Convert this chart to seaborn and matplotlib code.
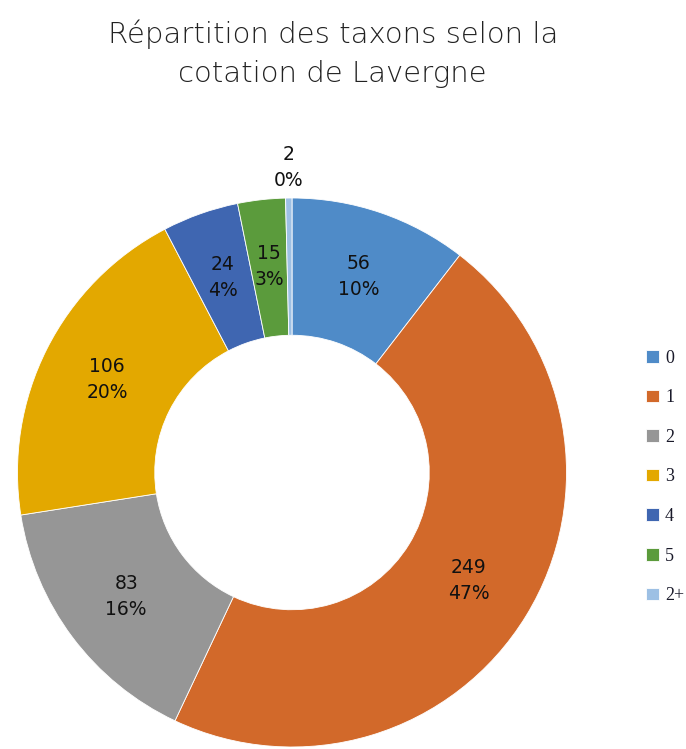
import numpy as np
import pandas as pd
import seaborn as sns
import matplotlib.pyplot as plt

# data
classes = ['0', '1', '2', '3', '4', '5', '2+']
counts = [56, 249, 83, 106, 24, 15, 2]
colors = ['#4F8BC8', '#D2692A', '#969696', '#E3A800', '#3F66B1', '#5B9B3C', '#9DC0E4']

df = pd.DataFrame({'cotation': classes, 'n': counts})
df['pct'] = (df['n'] / df['n'].sum() * 100).round().astype(int)

sns.set_theme(style='white')
plt.rcParams['font.family'] = ['DejaVu Sans']

fig = plt.figure(figsize=(6.86, 7.49), dpi=100)
ax = fig.add_axes([17.5/686, 2/749, 549/686, 549/749])

wedges, _ = ax.pie(df['n'], colors=sns.color_palette(colors), startangle=90,
                   counterclock=False, radius=1,
                   wedgeprops=dict(width=0.5, edgecolor='white', linewidth=0.6))
ax.set_xlim(-1, 1)
ax.set_ylim(-1, 1)
ax.set_aspect('equal')

# value + percent labels
for i, w in enumerate(wedges):
    mid = np.deg2rad((w.theta1 + w.theta2) / 2)
    r = 0.755 if df['n'][i] > 5 else 1.11
    ax.text(r*np.cos(mid), r*np.sin(mid), f"{df['n'][i]}\n{df['pct'][i]}%",
            ha='center', va='center', fontsize=13.5, color='#111111', linespacing=1.45)

# title, two centred lines
fig.text(0.485, 1 - 43/749, 'Répartition des taxons selon la', ha='center', va='baseline',
         fontsize=21, fontweight='light', color='#222222')
fig.text(0.485, 1 - 82/749, 'cotation de Lavergne', ha='center', va='baseline',
         fontsize=21, fontweight='light', color='#222222')

ax.legend(wedges, classes, loc='center left', bbox_to_anchor=(646/686, 1 - 477/749),
          bbox_transform=fig.transFigure, frameon=False,
          prop={'family': 'Liberation Serif', 'size': 13},
          handlelength=0.7, handleheight=0.7, handletextpad=0.35,
          labelspacing=1.25, borderpad=0, borderaxespad=0)
plt.setp(ax.get_legend().get_texts(), color='#1a1a2a')

fig.savefig('out.png', dpi=100)
